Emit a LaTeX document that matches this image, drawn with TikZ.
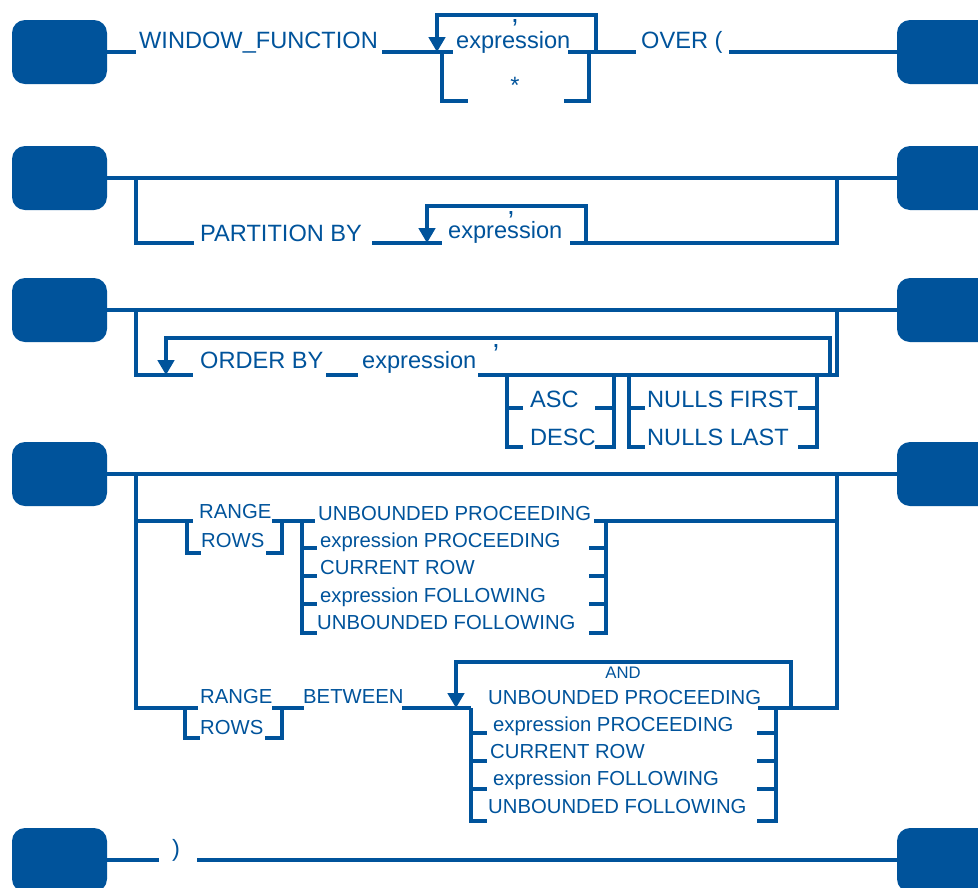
\documentclass[tikz,border=0pt]{standalone}
\usepackage{fontspec}
\setmainfont{Liberation Sans}
\usetikzlibrary{arrows.meta}
\definecolor{railblue}{RGB}{0,83,155}
\tikzset{
  rail/.style={draw=railblue,line width=3.3pt},
  railarrow/.style={rail,-{Triangle[width=16.5pt,length=15pt]}},
  blk/.style={rectangle,rounded corners=13pt,fill=railblue,draw=none,
    minimum width=95pt,minimum height=64pt,inner sep=0pt},
  kw/.style={text=railblue,inner sep=0pt,anchor=base west,font=\fontsize{23.6}{23.6}\selectfont},
  kws/.style={kw,font=\fontsize{20.3}{20.3}\selectfont},
  kwt/.style={kw,font=\fontsize{16.7}{16.7}\selectfont},
  kwc/.style={kw,anchor=base,font=\fontsize{28}{28}\selectfont},
  % bracket corner: vertical of length #1, foot of length #2
  pics/corner/.style args={#1/#2}{code={
    \draw[rail] (0,0) -- (0,#1) -- (#2,#1);
  }},
  % bracket with extra ticks at the offsets listed in #3
  pics/bar/.style args={#1/#2/#3}{code={
    \draw[rail] (0,0) -- (0,#1) -- (#2,#1);
    \foreach \t in {#3} {\draw[rail] (0,\t) -- (#2,\t);}
  }},
}
\begin{document}
\begin{tikzpicture}[x=1pt,y=-1pt]
\clip (0,0) rectangle (978,887);

% ---- terminal blocks ----
\node[blk] (L1) at (59.5,52) {};   \node[blk] (R1) at (944.5,52) {};
\node[blk] (L2) at (59.5,178) {};  \node[blk] (R2) at (944.5,178) {};
\node[blk] (L3) at (59.5,310) {};  \node[blk] (R3) at (944.5,310) {};
\node[blk] (L4) at (59.5,474) {};  \node[blk] (R4) at (944.5,474) {};
\node[blk] (L6) at (59.5,860) {};  \node[blk] (R6) at (944.5,860) {};

% ---- row 1: WINDOW_FUNCTION ( expression | * ) OVER ( ----
\node[kw] (wf) at (139,48) {WINDOW\_FUNCTION};
\node[kw] (ex1) at (456,48) {expression};
\node[kwc] (cm1) at (515,22) {,};
\node[kw,anchor=base] (st) at (515,93) {*};
\node[kw] (over) at (641,48) {OVER (};

\coordinate (a1) at (136,52);
\coordinate (a2) at (382,52);
\coordinate (a3) at (453,52);
\coordinate (a4) at (568,52);
\coordinate (a5) at (636,52);
\coordinate (a6) at (729,52);
\coordinate (p1a) at (596,52);
\coordinate (p1b) at (596,15);
\coordinate (p1c) at (437,15);
\coordinate (p1d) at (437,52);

\draw[rail] (L1.east) -- (a1);
\draw[rail] (a2) -- (a3);
\draw[rail] (a4) -- (a5);
\draw[rail] (a6) -- (R1.west);
\draw[railarrow] (p1a) -- (p1b) -- (p1c) -- (p1d);
\pic at (442,52) {corner=49/26};
\pic at (589,52) {corner=49/-25};

% ---- row 2: PARTITION BY ----
\node[kw] (pb) at (200,241) {PARTITION BY};
\node[kw] (ex2) at (448,238) {expression};
\node[kwc] (cm2) at (511,214) {,};

\coordinate (b1) at (136,178);
\coordinate (b2) at (136,243);
\coordinate (b3) at (194,243);
\coordinate (b4) at (372,243);
\coordinate (b5) at (442,243);
\coordinate (b6) at (570,243);
\coordinate (b7) at (837,243);
\coordinate (b8) at (837,178);
\coordinate (p2a) at (586,243);
\coordinate (p2b) at (586,206);
\coordinate (p2c) at (427,206);
\coordinate (p2d) at (427,243);

\draw[rail] (L2.east) -- (R2.west);
\draw[rail] (b1) -- (b2) -- (b3);
\draw[rail] (b4) -- (b5);
\draw[rail] (b6) -- (b7) -- (b8);
\draw[railarrow] (p2a) -- (p2b) -- (p2c) -- (p2d);

% ---- row 3: ORDER BY ----
\node[kw] (ob) at (200,368) {ORDER BY};
\node[kw] (ex3) at (362,368) {expression};
\node[kwc] (cm3) at (496,347) {,};
\node[kw] (asc) at (530,407) {ASC};
\node[kw] (desc) at (530,445) {DESC};
\node[kw] (nf) at (647,407) {NULLS FIRST};
\node[kw] (nl) at (647,445) {NULLS LAST};

\coordinate (c1) at (136,310);
\coordinate (c2) at (136,375);
\coordinate (c3) at (193,375);
\coordinate (c4) at (326,375);
\coordinate (c5) at (358,375);
\coordinate (c6) at (478,375);
\coordinate (c7) at (837,375);
\coordinate (c8) at (837,310);
\coordinate (p3a) at (830,375);
\coordinate (p3b) at (830,338);
\coordinate (p3c) at (166,338);
\coordinate (p3d) at (166,375);

\draw[rail] (L3.east) -- (R3.west);
\draw[rail] (c1) -- (c2) -- (c3);
\draw[rail] (c4) -- (c5);
\draw[rail] (c6) -- (c7) -- (c8);
\draw[railarrow] (p3a) -- (p3b) -- (p3c) -- (p3d);
\pic at (507,375) {bar=72/16/33};
\pic at (614,375) {bar=72/-19/33};
\pic at (629,375) {bar=72/16/33};
\pic at (817,375) {bar=72/-19/33};

% ---- row 4: frame without BETWEEN ----
\node[kws] (rg1) at (199,518) {RANGE};
\node[kws] (rw1) at (201,547) {ROWS};
\node[kws] (o1a) at (318,520) {UNBOUNDED PROCEEDING};
\node[kws] (o1b) at (320,547) {expression PROCEEDING};
\node[kws] (o1c) at (320,574) {CURRENT ROW};
\node[kws] (o1d) at (320,602) {expression FOLLOWING};
\node[kws] (o1e) at (317,629) {UNBOUNDED FOLLOWING};

\coordinate (f0) at (136,474);
\coordinate (f1) at (136,708);
\coordinate (f2) at (198,708);
\coordinate (d1) at (136,521);
\coordinate (d2) at (193,521);
\coordinate (d3) at (272,521);
\coordinate (d4) at (315,521);
\coordinate (d5) at (594,521);
\coordinate (d6) at (837,521);
\coordinate (e1) at (758,708);
\coordinate (e2) at (837,708);
\coordinate (e3) at (837,474);

\draw[rail] (L4.east) -- (R4.west);
\draw[rail] (f0) -- (f1) -- (f2);
\draw[rail] (d1) -- (d2);
\draw[rail] (d3) -- (d4);
\draw[rail] (d5) -- (d6);
\draw[rail] (e1) -- (e2) -- (e3);
\pic at (187,521) {corner=32/14};
\pic at (282,521) {corner=32/-16};
\pic at (302,521) {bar=112/15/{27,55,83}};
\pic at (606,521) {bar=112/-17/{27,55,83}};

% ---- row 5: frame with BETWEEN ... AND ----
\node[kws] (rg2) at (200,703) {RANGE};
\node[kws] (rw2) at (200,734) {ROWS};
\node[kws] (btw) at (303,703) {BETWEEN};
\node[kwt,anchor=base] (and) at (623,678) {AND};
\node[kws] (o2a) at (488,704) {UNBOUNDED PROCEEDING};
\node[kws] (o2b) at (493,731) {expression PROCEEDING};
\node[kws] (o2c) at (490,758) {CURRENT ROW};
\node[kws] (o2d) at (493,785) {expression FOLLOWING};
\node[kws] (o2e) at (488,813) {UNBOUNDED FOLLOWING};

\coordinate (g1) at (272,708);
\coordinate (g2) at (304,708);
\coordinate (g3) at (402,708);
\coordinate (g4) at (471,708);
\coordinate (p5a) at (791,708);
\coordinate (p5b) at (791,662);
\coordinate (p5c) at (456,662);
\coordinate (p5d) at (456,708);

\draw[rail] (g1) -- (g2);
\draw[rail] (g3) -- (g4);
\draw[railarrow] (p5a) -- (p5b) -- (p5c) -- (p5d);
\pic at (185,708) {corner=30/15};
\pic at (282,708) {corner=30/-17};
\pic at (471,708) {bar=113/16/{25,53,81}};
\pic at (776,708) {bar=113/-19/{25,53,81}};

% ---- row 6: closing parenthesis ----
\node[kw,anchor=base] (cp) at (176,856) {)};
\coordinate (h1) at (159,860);
\coordinate (h2) at (197,860);
\draw[rail] (L6.east) -- (h1);
\draw[rail] (h2) -- (R6.west);
\end{tikzpicture}
\end{document}
